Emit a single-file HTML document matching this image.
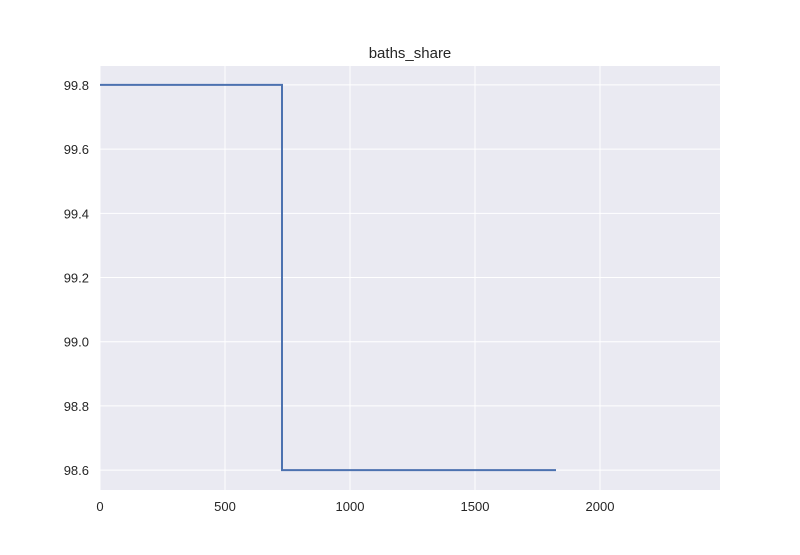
<!DOCTYPE html>
<html><head><meta charset="utf-8"><style>
body{margin:0;background:#fff;width:800px;height:550px;overflow:hidden}
text{font-family:"Liberation Sans",sans-serif;fill:#262626}
</style></head><body>
<svg id="chart" width="800" height="550"></svg>
<script>
const xTicks=[0,500,1000,1500,2000];
const yTicks=[98.6,98.8,99.0,99.2,99.4,99.6,99.8];
const xs=[0,728,728,1824];
const ys=[99.8,99.8,98.6,98.6];
const L=100,R=720,T=66,B=490;
const xMin=0,xMax=2480,yMin=98.538,yMax=99.859;
const sx=v=>L+(v-xMin)/(xMax-xMin)*(R-L);
const sy=v=>B-(v-yMin)/(yMax-yMin)*(B-T);
const svg=document.getElementById('chart');
const NS='http://www.w3.org/2000/svg';
function mk(t,a,p){const e=document.createElementNS(NS,t);for(const k in a)e.setAttribute(k,a[k]);(p||svg).appendChild(e);return e;}
const bg=mk('rect',{x:L,y:T,width:R-L,height:B-T,fill:'#eaeaf2'});


xTicks.forEach(v=>{
  const g=mk('line',{x1:sx(v),x2:sx(v),y1:T,y2:B,stroke:'#fff','stroke-width':1});
  
  
  const t=mk('text',{x:sx(v),y:B+21,'text-anchor':'middle','font-size':13});
  t.textContent=v;
  
  
});
yTicks.forEach(v=>{
  const g=mk('line',{x1:L,x2:R,y1:sy(v),y2:sy(v),stroke:'#fff','stroke-width':1});
  
  
  const t=mk('text',{x:L-11,y:sy(v)+5,'text-anchor':'end','font-size':13});
  t.textContent=v.toFixed(1);
  
  
});
const pts=xs.map((x,i)=>sx(x)+','+sy(ys[i])).join(' ');
const line=mk('polyline',{points:pts,fill:'none',stroke:'#4c72b0','stroke-width':2});


const title=mk('text',{x:(L+R)/2,y:58,'text-anchor':'middle','font-size':15});
title.textContent='baths_share';


</script>
</body></html>
